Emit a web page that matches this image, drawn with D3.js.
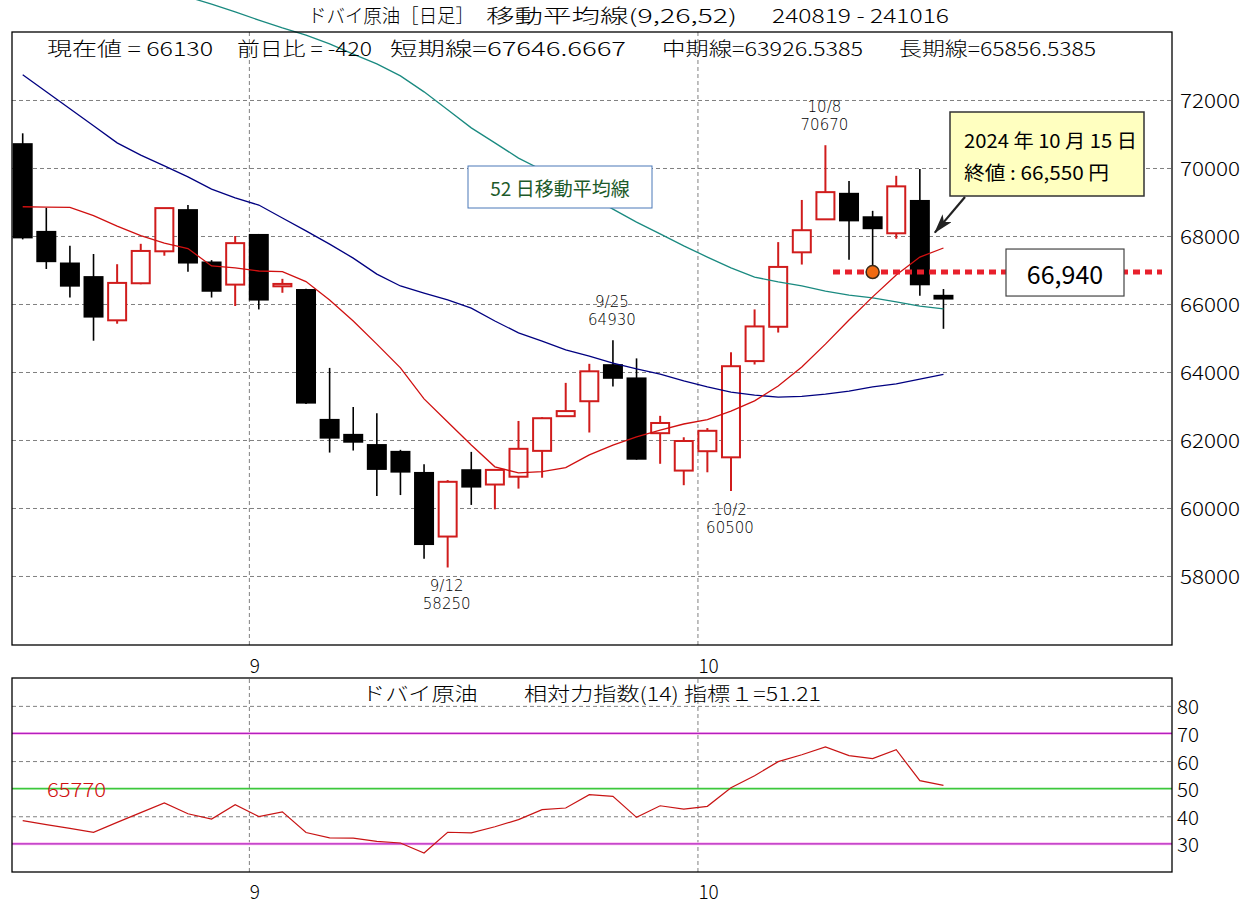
<!DOCTYPE html>
<html>
<head>
<meta charset="utf-8">
<script src="https://cdn.jsdelivr.net/npm/d3@7"></script>
<style>
  body { margin: 0; background: #fff; }
  text { font-family: "Noto Sans CJK JP", "DejaVu Sans", sans-serif; font-weight: 300; fill: #000; }
  .grid line { stroke: #808080; stroke-dasharray: 4,3; }
  .grid path { display: none; }
</style>
</head>
<body>
<div id="my_dataviz"></div>
<script>
// trading days 2024/08/19 - 2024/10/16
var dates = ["8/19","8/20","8/21","8/22","8/23","8/26","8/27","8/28","8/29","8/30",
  "9/2","9/3","9/4","9/5","9/6","9/9","9/10","9/11","9/12","9/13",
  "9/17","9/18","9/19","9/20","9/24","9/25","9/26","9/27","9/30",
  "10/1","10/2","10/3","10/4","10/7","10/8","10/9","10/10","10/11","10/15","10/16"];

var openVals  = [70730,68150,67220,66820,65520,66610,67550,68790,67250,66570,68060,66520,66440,62620,62180,61880,61680,61060,59160,61140,60690,60920,61680,62700,63140,64230,63840,62200,61100,61670,61490,64320,65330,67520,68490,69270,68580,68080,69060,66270];
var highVals  = [71020,68830,67710,67470,67170,67770,68820,68910,67290,68000,68060,66740,66450,64120,62970,62790,61710,61290,60820,61650,61140,62560,62670,63680,64240,64930,64400,62710,62080,62350,64580,65840,67820,69060,70670,69620,68740,69770,69970,66440];
var lowVals   = [67900,67030,66190,64920,65420,66580,67420,66950,66190,65940,65840,66330,63060,61630,61690,60350,60380,58510,58250,60090,59960,60570,60890,62700,62220,63570,61420,61300,60670,61050,60500,64220,65160,67160,68490,67300,66940,67920,66240,65270];
var closeVals = [67930,67230,66510,65600,66620,67560,68820,67190,66360,67790,66100,66590,63070,62040,61920,61120,61040,58910,60770,60600,61120,61740,62640,62850,64020,63800,61420,62500,61970,62270,64170,65340,67090,68170,69290,68430,68200,69460,66550,66130];

// moving averages (9, 26, 52)
var maShort = [68860,68850,68840,68600,68290,68010,67790,67630,67120,67060,66970,66950,66660,66120,65500,64820,64120,63210,62530,61850,61210,61030,61070,61190,61560,61850,62090,62290,62470,62600,62850,63150,63590,64150,64820,65530,66210,66850,67380,67647];
var maMid   = [72740,72240,71740,71240,70740,70380,70060,69740,69380,69120,68910,68530,68150,67760,67350,66880,66530,66320,66120,65880,65500,65150,64910,64650,64470,64260,64090,63940,63740,63560,63410,63320,63260,63280,63350,63440,63560,63650,63790,63927];
var maLong  = [76560,76320,76120,75880,75680,75470,75260,75030,74820,74590,74350,74120,73910,73650,73350,73060,72710,72240,71710,71180,70740,70290,69940,69560,69180,68790,68410,68060,67710,67380,67060,66790,66650,66530,66380,66260,66180,66060,65940,65857];

// RSI(14)
var rsiVals = [38.4,37.0,35.6,34.2,37.8,41.3,44.8,40.9,39.0,44.2,39.9,41.6,34.1,32.2,32.1,30.9,30.3,26.7,34.2,34.0,36.2,38.8,42.4,43.0,47.8,47.2,39.6,43.8,42.6,43.6,50.3,54.7,59.8,62.3,65.1,62.0,60.9,64.1,52.9,51.21];

var priceTicks = [58000,60000,62000,64000,66000,68000,70000,72000];
var rsiTicks = [30,40,50,60,70,80];
var rsiDashed = [40,60,80];
var rsiBands = [30,70];

// high / low notes: index into dates, value, above or below
var notes = [
  {i: 18, value: 58250, pos: "below"},
  {i: 25, value: 64930, pos: "above"},
  {i: 30, value: 60500, pos: "below"},
  {i: 34, value: 70670, pos: "above"}
];
var markLevel = 66940;
var markIndex = 36;

var W = 1254, H = 902;
var frame = {left: 12, right: 1172, top: 32, bottom: 645};
var rframe = {top: 678, bottom: 872};

var svg = d3.select("#my_dataviz")
  .append("svg")
    .attr("width", W)
    .attr("height", H)
    .style("display", "block");

// scales
var x = d3.scaleLinear()
  .domain([-0.453, 48.68])
  .range([frame.left, frame.right]);

var y = d3.scaleLinear()
  .domain([55970, 74000])
  .range([frame.bottom, frame.top]);

var yr = d3.scaleLinear()
  .domain([19.8, 90.1])
  .range([rframe.bottom, rframe.top]);

// month boundaries (first trading day of month)
var monthPos = [], monthLabels = [];
dates.forEach(function(d, i) {
  if (i > 0 && d.split("/")[0] != dates[i-1].split("/")[0]) {
    monthPos.push(i - 0.42);
    monthLabels.push(d.split("/")[0]);
  }
});

function textFit(g, str, x0, x1, yc, size) {
  return g.append("text")
    .attr("x", x0)
    .attr("y", yc)
    .attr("dominant-baseline", "central")
    .attr("textLength", x1 - x0)
    .attr("lengthAdjust", "spacingAndGlyphs")
    .style("font-size", size + "px")
    .text(str);
}

// ---------- main price panel ----------
var main = svg.append("g");

// horizontal gridlines
main.append("g")
  .attr("class", "grid")
  .attr("transform", "translate(" + frame.left + ",0)")
  .call(d3.axisLeft(y)
    .tickValues(priceTicks)
    .tickSize(-(frame.right - frame.left))
    .tickFormat("")
  );

// vertical month gridlines
main.append("g")
  .attr("class", "grid")
  .attr("transform", "translate(0," + frame.bottom + ")")
  .call(d3.axisBottom(x)
    .tickValues(monthPos)
    .tickSize(-(frame.bottom - frame.top))
    .tickFormat("")
  );

// price labels on the right
priceTicks.forEach(function(v) {
  main.append("text")
    .attr("x", frame.right + 8)
    .attr("y", y(v))
    .attr("dominant-baseline", "central")
    .attr("textLength", 60)
    .attr("lengthAdjust", "spacingAndGlyphs")
    .style("font-size", "19px")
    .text(v);
});

// month labels under the main panel
monthPos.forEach(function(p, k) {
  main.append("text")
    .attr("x", x(p) + 1)
    .attr("y", 664)
    .attr("dominant-baseline", "central")
    .style("font-size", "19px")
    .text(monthLabels[k]);
});

// candles
var bw = 20;
var candles = main.append("g");
dates.forEach(function(d, i) {
  var up = closeVals[i] >= openVals[i];
  var col = up ? "#d01c1c" : "#000";
  candles.append("line")
    .attr("x1", x(i)).attr("x2", x(i))
    .attr("y1", y(highVals[i])).attr("y2", y(lowVals[i]))
    .style("stroke", col)
    .style("stroke-width", up ? 2 : 1.6);
  var top = y(Math.max(openVals[i], closeVals[i]));
  var bot = y(Math.min(openVals[i], closeVals[i]));
  if (up) {
    candles.append("rect")
      .attr("x", x(i) - bw/2 + 1).attr("y", top)
      .attr("width", bw - 2).attr("height", Math.max(bot - top, 2))
      .style("fill", "#fff")
      .style("stroke", col)
      .style("stroke-width", 2);
  } else {
    candles.append("rect")
      .attr("x", x(i) - bw/2).attr("y", top)
      .attr("width", bw).attr("height", Math.max(bot - top, 2))
      .style("fill", "#000");
  }
});

// moving average lines
function maLine(vals, color, w) {
  main.append("path")
    .datum(vals)
    .attr("d", d3.line()
      .x(function(d, i) { return x(i) })
      .y(function(d) { return y(d) })
    )
    .style("fill", "none")
    .style("stroke", color)
    .style("stroke-width", w);
}
maLine(maLong, "#1a8a80", 1.3);
maLine(maMid, "#000080", 1.3);
maLine(maShort, "#d01010", 1.3);

// high / low notes (date over value)
notes.forEach(function(n) {
  var yy = n.pos == "above" ? y(highVals[n.i]) : y(lowVals[n.i]);
  var y1 = n.pos == "above" ? yy - 38 : yy + 19;
  [dates[n.i], n.value].forEach(function(s, k) {
    main.append("text")
      .attr("x", x(n.i) - 1)
      .attr("y", y1 + k * 18)
      .attr("text-anchor", "middle").attr("dominant-baseline", "central")
      .style("font-family", "DejaVu Sans")
      .style("font-size", "15px")
      .text(s);
  });
});

// 52-day label box
main.append("rect")
  .attr("x", 468).attr("y", 166).attr("width", 184).attr("height", 42)
  .style("fill", "#fff").style("stroke", "#4a78b8").style("stroke-width", 1);
main.append("text")
  .attr("x", 560).attr("y", 187)
  .attr("text-anchor", "middle").attr("dominant-baseline", "central")
  .style("font-size", "19px").style("font-weight", "400").style("fill", "#1d5a2a")
  .text("52 日移動平均線");

// level line with marker
main.append("line")
  .attr("x1", 833).attr("x2", 1162)
  .attr("y1", y(markLevel)).attr("y2", y(markLevel))
  .style("stroke", "#e8202c")
  .style("stroke-width", 5)
  .style("stroke-dasharray", "7,5");
main.append("circle")
  .attr("cx", x(markIndex)).attr("cy", y(markLevel)).attr("r", 6.5)
  .style("fill", "#f06a12").style("stroke", "#3a2a1a").style("stroke-width", 1.5);
main.append("rect")
  .attr("x", 1006).attr("y", y(markLevel) - 23).attr("width", 118).attr("height", 47)
  .style("fill", "#fff").style("stroke", "#444").style("stroke-width", 1.2);
main.append("text")
  .attr("x", 1065).attr("y", y(markLevel) + 1)
  .attr("text-anchor", "middle").attr("dominant-baseline", "central")
  .style("font-size", "25px").style("font-weight", "400")
  .text(d3.format(",")(markLevel));

// callout for 10/15 close
main.append("rect")
  .attr("x", 950).attr("y", 112).attr("width", 194).attr("height", 84)
  .style("fill", "#ffffc0").style("stroke", "#333").style("stroke-width", 1.5);
textFit(main, "2024 年 10 月 15 日", 964, 1137, 139, 19).style("font-weight", "400");
textFit(main, "終値 : " + d3.format(",")(closeVals[38]) + " 円", 964, 1109, 171, 19).style("font-weight", "400");

svg.append("defs").append("marker")
  .attr("id", "arrow")
  .attr("viewBox", "0 0 20 12")
  .attr("refX", 19).attr("refY", 6)
  .attr("markerWidth", 20).attr("markerHeight", 12)
  .attr("markerUnits", "userSpaceOnUse")
  .attr("orient", "auto")
  .append("path")
    .attr("d", "M0,0 L20,6 L0,12 L5,6 Z")
    .style("fill", "#222");
main.append("line")
  .attr("x1", 965).attr("y1", 197)
  .attr("x2", x(38) + 15).attr("y2", y(68100))
  .style("stroke", "#222").style("stroke-width", 2.2)
  .attr("marker-end", "url(#arrow)");

// frame
main.append("rect")
  .attr("x", frame.left).attr("y", frame.top)
  .attr("width", frame.right - frame.left).attr("height", frame.bottom - frame.top)
  .style("fill", "none").style("stroke", "#000").style("stroke-width", 1.3);

// titles
textFit(svg, "ドバイ原油［日足］", 308, 474, 14, 19);
textFit(svg, "移動平均線(9,26,52)", 486, 737, 14, 19);
textFit(svg, "240819 - 241016", 772, 949, 14, 19);

textFit(svg, "現在値 = " + closeVals[39], 47, 213, 47, 19);
textFit(svg, "前日比 = " + (closeVals[39] - closeVals[38]), 237, 372, 47, 19);
textFit(svg, "短期線=67646.6667", 390, 626, 47, 19);
textFit(svg, "中期線=63926.5385", 662, 863, 47, 19);
textFit(svg, "長期線=65856.5385", 899, 1096, 47, 19);

// ---------- RSI panel ----------
var rsi = svg.append("g");

rsi.append("g")
  .attr("class", "grid")
  .attr("transform", "translate(" + frame.left + ",0)")
  .call(d3.axisLeft(yr)
    .tickValues(rsiDashed)
    .tickSize(-(frame.right - frame.left))
    .tickFormat("")
  );

rsi.append("g")
  .attr("class", "grid")
  .attr("transform", "translate(0," + rframe.bottom + ")")
  .call(d3.axisBottom(x)
    .tickValues(monthPos)
    .tickSize(-(rframe.bottom - rframe.top))
    .tickFormat("")
  );

rsiBands.forEach(function(v) {
  rsi.append("line")
    .attr("x1", frame.left).attr("x2", frame.right)
    .attr("y1", yr(v)).attr("y2", yr(v))
    .style("stroke", "#ffc0f0").style("stroke-width", 3);
  rsi.append("line")
    .attr("x1", frame.left).attr("x2", frame.right)
    .attr("y1", yr(v)).attr("y2", yr(v))
    .style("stroke", "#b020c0").style("stroke-width", 1.2);
});
rsi.append("line")
  .attr("x1", frame.left).attr("x2", frame.right)
  .attr("y1", yr(50)).attr("y2", yr(50))
  .style("stroke", "#3cc83c").style("stroke-width", 1.6);

rsi.append("text")
  .attr("x", 47).attr("y", yr(50))
  .attr("dominant-baseline", "central")
  .attr("textLength", 59).attr("lengthAdjust", "spacingAndGlyphs")
  .style("font-size", "19px").style("fill", "#d01010")
  .text("65770");

rsi.append("path")
  .datum(rsiVals)
  .attr("d", d3.line()
    .x(function(d, i) { return x(i) })
    .y(function(d) { return yr(d) })
  )
  .style("fill", "none")
  .style("stroke", "#c81414")
  .style("stroke-width", 1.2);

rsiTicks.forEach(function(v) {
  rsi.append("text")
    .attr("x", frame.right + 5)
    .attr("y", yr(v))
    .attr("dominant-baseline", "central")
    .attr("textLength", 22)
    .attr("lengthAdjust", "spacingAndGlyphs")
    .style("font-size", "19px")
    .text(v);
});

monthPos.forEach(function(p, k) {
  rsi.append("text")
    .attr("x", x(p) + 1)
    .attr("y", 890)
    .attr("dominant-baseline", "central")
    .style("font-size", "19px")
    .text(monthLabels[k]);
});

rsi.append("rect")
  .attr("x", frame.left).attr("y", rframe.top)
  .attr("width", frame.right - frame.left).attr("height", rframe.bottom - rframe.top)
  .style("fill", "none").style("stroke", "#000").style("stroke-width", 1.3);

textFit(rsi, "ドバイ原油　　相対力指数(14) 指標１=" + rsiVals[39], 362, 821, 692, 19);
</script>
</body>
</html>
